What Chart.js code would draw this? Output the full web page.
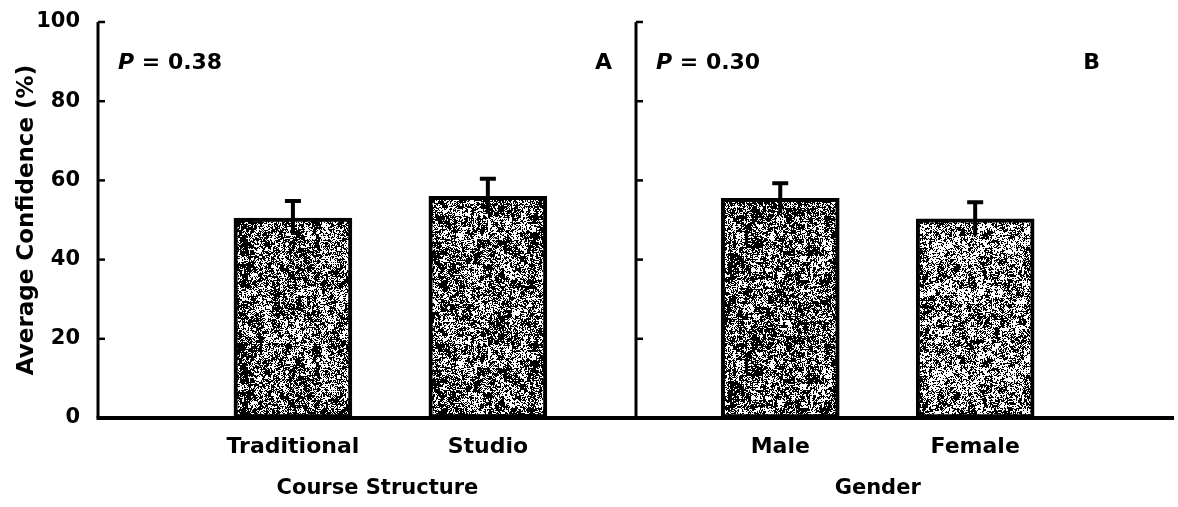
<!DOCTYPE html>
<html>
<head>
<meta charset="utf-8">
<script src="https://cdn.jsdelivr.net/npm/chart.js@4.4.1/dist/chart.umd.min.js"></script>
<style>
  html, body { margin: 0; padding: 0; background: #fff; }
  #wrap { width: 1178px; height: 507px; }
</style>
</head>
<body>
<div id="wrap"><canvas id="confChart" width="1178" height="507"></canvas></div>
<script>
// data
const categories = ['Traditional', 'Studio', 'Male', 'Female'];
const groups = ['Course Structure', 'Gender'];
const groupOf = [0, 0, 1, 1];
const meanConfidence = [50.5, 56.0, 55.5, 50.3];
const errConfidence = [4.3, 4.4, 3.8, 4.2];
const pValues = ['0.38', '0.30'];
const panelLetters = ['A', 'B'];
const yTicks = [0, 20, 40, 60, 80, 100];

// layout on the shared linear x axis: two panels, divider between them
const PANEL_W = 2.76;
const slotX = [1, 2, PANEL_W + 0.74, PANEL_W + 1.74];
const titleShift = [-13, 0];
const FONT = 'DejaVu Sans';

// speckled fill: blotchy noise at two scales modulating fine grain
function hash(x, y, s) {
  let n = Math.imul(x * 31 + 7 + s, 374761393) ^ Math.imul(y * 17 + 3 + s * 5, 668265263);
  n = Math.imul(n ^ (n >>> 13), 1274126177);
  return ((n ^ (n >>> 16)) >>> 0) / 4294967296;
}
function makeSpeckle(density, seed) {
  const N = 128;
  const c = document.createElement('canvas');
  c.width = c.height = N;
  const g = c.getContext('2d');
  g.fillStyle = '#fff';
  g.fillRect(0, 0, N, N);
  g.fillStyle = '#000';
  for (let y = 0; y < N; y++) {
    for (let x = 0; x < N; x++) {
      const big = hash(Math.floor(x / 8), Math.floor(y / 8), seed + 11);
      const mid = hash(Math.floor(x / 3), Math.floor(y / 3), seed + 23);
      const t = density + (big - 0.5) * 0.5 + (mid - 0.5) * 0.6;
      if (hash(x, y, seed) < t) g.fillRect(x, y, 1, 1);
    }
  }
  return g.createPattern(c, 'repeat');
}

const ctx = document.getElementById('confChart').getContext('2d');
const fills = [makeSpeckle(0.56, 1), makeSpeckle(0.58, 2), makeSpeckle(0.6, 3), makeSpeckle(0.5, 4)];

const panelPlugin = {
  id: 'panels',
  afterDatasetsDraw(chart) {
    const { ctx, chartArea: a, scales: { x, y } } = chart;
    const divX = x.getPixelForValue(PANEL_W);
    ctx.save();
    ctx.strokeStyle = '#000';
    ctx.fillStyle = '#000';

    // error bars (stem through the mean, cap on top)
    ctx.lineWidth = 4;
    meanConfidence.forEach((m, i) => {
      const px = x.getPixelForValue(slotX[i]);
      const yTop = y.getPixelForValue(m + errConfidence[i]);
      const yLow = y.getPixelForValue(m - errConfidence[i]);
      ctx.beginPath();
      ctx.moveTo(px, yLow);
      ctx.lineTo(px, yTop);
      ctx.moveTo(px - 8, yTop);
      ctx.lineTo(px + 8, yTop);
      ctx.stroke();
    });

    // axes and panel divider
    ctx.lineWidth = 3;
    ctx.beginPath();
    ctx.moveTo(a.left, a.top);
    ctx.lineTo(a.left, a.bottom);
    ctx.moveTo(divX, a.top);
    ctx.lineTo(divX, a.bottom);
    ctx.stroke();
    ctx.lineWidth = 4;
    ctx.beginPath();
    ctx.moveTo(a.left - 1.5, a.bottom);
    ctx.lineTo(a.right, a.bottom);
    ctx.stroke();

    // inside tick marks on both vertical axes
    ctx.lineWidth = 2.5;
    yTicks.forEach(v => {
      const py = y.getPixelForValue(v);
      [a.left, divX].forEach(ax => {
        ctx.beginPath();
        ctx.moveTo(ax, py);
        ctx.lineTo(ax + 7, py);
        ctx.stroke();
      });
    });

    // P values and panel letters
    const panelLeft = [a.left, divX];
    const letterRight = [divX - 24, a.right - 74];
    ctx.textBaseline = 'alphabetic';
    pValues.forEach((p, k) => {
      const tx = panelLeft[k] + 20;
      ctx.textAlign = 'left';
      ctx.font = `italic bold 22px "${FONT}"`;
      ctx.fillText('P', tx, 69);
      const w = ctx.measureText('P').width;
      ctx.font = `bold 22px "${FONT}"`;
      ctx.fillText(' = ' + p, tx + w, 69);
      ctx.textAlign = 'right';
      ctx.fillText(panelLetters[k], letterRight[k], 69);
    });

    // group titles under each pair of categories
    ctx.font = `bold 21px "${FONT}"`;
    ctx.textAlign = 'center';
    ctx.textBaseline = 'middle';
    groups.forEach((gname, k) => {
      const xs = slotX.filter((_, i) => groupOf[i] === k).map(v => x.getPixelForValue(v));
      const cx = (Math.min(...xs) + Math.max(...xs)) / 2 + titleShift[k];
      ctx.fillText(gname, cx, 489);
    });
    ctx.restore();
  }
};

new Chart(ctx, {
  type: 'bar',
  data: {
    datasets: [{
      data: categories.map((c, i) => ({ x: slotX[i], y: meanConfidence[i] })),
      backgroundColor: fills,
      borderColor: '#000',
      borderWidth: 4,
      borderSkipped: false,
      barThickness: 118
    }]
  },
  options: {
    responsive: false,
    animation: false,
    devicePixelRatio: 1,
    layout: { padding: { top: 22, right: 4, left: 0, bottom: 0 } },
    plugins: { legend: { display: false }, tooltip: { enabled: false } },
    scales: {
      x: {
        type: 'linear',
        offset: false,
        min: 0,
        max: PANEL_W * 2,
        grid: { display: false, drawTicks: false },
        border: { display: false },
        afterBuildTicks: s => { s.ticks = slotX.map(v => ({ value: v })); },
        afterFit: s => { s.height = 89; s.paddingLeft = 0; s.paddingRight = 0; },
        ticks: {
          callback: (v, i) => categories[i],
          font: { family: FONT, size: 22, weight: 'bold' },
          color: '#000',
          padding: 16,
          autoSkip: false,
          maxRotation: 0
        }
      },
      y: {
        min: 0,
        max: 100,
        grid: { display: false, drawTicks: false },
        border: { display: false },
        afterBuildTicks: s => { s.ticks = yTicks.map(v => ({ value: v })); },
        afterFit: s => { s.width = 98; s.paddingTop = 0; s.paddingBottom = 0; },
        ticks: {
          font: { family: FONT, size: 21, weight: 'bold' },
          color: '#000',
          padding: 18
        },
        title: {
          display: true,
          text: 'Average Confidence (%)',
          font: { family: FONT, size: 23, weight: 'bold' },
          color: '#000',
          padding: { top: 13, bottom: 0 }
        }
      }
    }
  },
  plugins: [panelPlugin]
});
</script>
</body>
</html>
